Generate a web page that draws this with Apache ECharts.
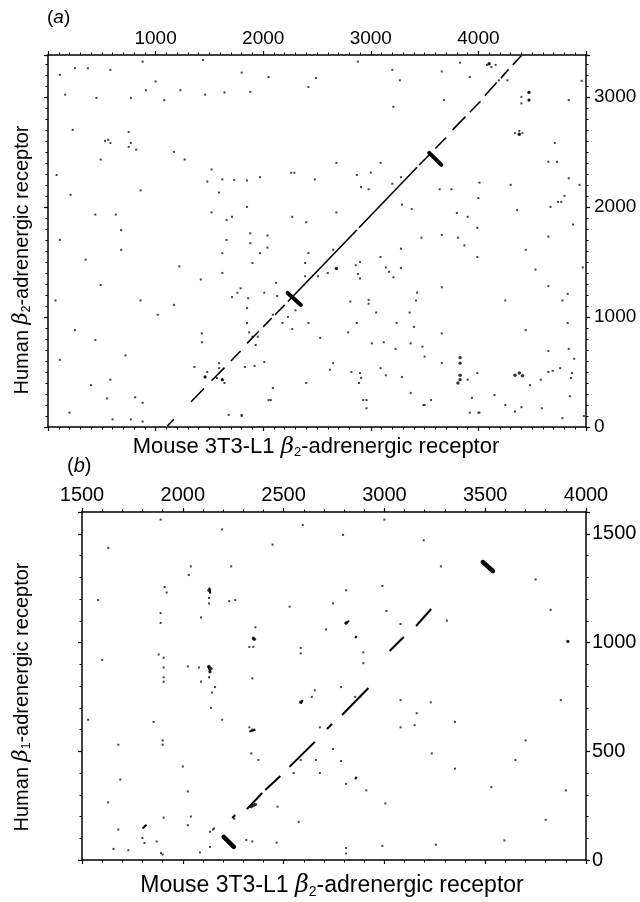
<!DOCTYPE html>
<html><head><meta charset="utf-8">
<script src="https://cdn.jsdelivr.net/npm/echarts@6/dist/echarts.min.js"></script>
<style>html,body{margin:0;padding:0;background:#fff}#c{width:640px;height:902px}</style>
</head><body><div id="c"></div>
<script>
// ---------- Panel (a): Mouse 3T3-L1 beta2 (x) vs Human beta2 (y) ----------
const rangeAx = [0, 5000], rangeAy = [0, 3380];
const ticksAx = [1000, 2000, 3000, 4000];
const ticksAy = [0, 1000, 2000, 3000];
// diagonal match segments [x1,y1,x2,y2]
const dashesA = [
  [1110,10,1170,70],[1330,230,1450,350],[1520,420,1640,540],[1700,600,1790,690],
  [1850,760,1960,870],[2000,910,2080,990],[2110,1020,2200,1110],
  [2230,1140,2870,1790],[2890,1810,3430,2360],[3450,2380,3560,2490],
  [3600,2530,3700,2630],[3760,2700,3880,2820],[3920,2860,4020,2960],
  [4060,3010,4170,3130],[4210,3170,4280,3250],[4320,3290,4400,3375]
];
const arrowsA = [[2227,1218,2350,1109],[3543,2491,3656,2382]];
const dotsA = [
  [250,3260],[370,3260],[580,3245],[880,3320],[1440,3335],[1800,3220],[2050,3180],[2420,3090],
  [2490,3170],[2880,3320],[3200,3245],[3270,3150],[3660,3230],[3830,3310],[3920,3180],
  [4080,3290],[4120,3270],[4160,3290],[4100,3300],[4190,3150],[4270,3150],[4400,3000],
  [4470,3040],[4470,2970],[4400,2940],[4840,2970],[450,2990],[770,2990],[1080,2970],
  [1460,3020],[1640,3040],[1880,3045],[1000,3140],[1230,3060],[3210,2910],[3680,2970],
  [110,3200],[160,3020],[230,2700],[80,2290],[210,2110],[440,1930],[110,1700],[350,1520],
  [490,1290],[680,1610],[70,1150],[250,880],[440,790],[110,610],[400,380],[580,430],
  [910,3060],[560,2610],[580,2580],[530,2600],[750,2680],[770,2580],[750,2545],[820,2520],
  [490,2430],[860,2150],[630,1930],[680,1790],[860,1150],[720,650],
  [200,130],[550,260],[810,270],[600,70],[880,220],[880,50],[770,70],[1640,400],[1800,110],
  [2050,245],[2930,245],[3490,200],[4000,130],[4340,140],[4400,180],
  [1170,2500],[1270,2430],[1520,2340],[1480,2230],[1620,2250],[1730,2245],[1850,2240],
  [1970,2270],[2260,2310],[2290,2310],[2480,2250],[2680,2400],[2870,2290],[3000,2310],
  [3090,2400],[2910,2180],[2980,2160],[3200,2210],[3280,2270],[3640,2160],[3750,2160],
  [4010,2220],[4000,2080],[1590,2130],[1520,1950],[1710,1910],[1660,1880],[1850,2000],
  [2270,1910],[2400,1860],[2680,1950],[3290,2020],[3380,1980],[3800,1945],[3900,1910],
  [1660,1700],[1880,1760],[2040,1740],[1880,1670],[2040,1630],[1970,1580],[1620,1580],
  [2420,1580],[2650,1610],[3090,1545],[3280,1620],[3470,1720],[3660,1745],[3810,1720],
  [3870,1650],[3990,1545],[3990,1810],[1220,1460],[1620,1400],[1900,1490],[2390,1490],
  [2510,1370],[2600,1400],[2680,1440],[2860,1470],[2900,1500],[2880,1390],[2900,1350],
  [3140,1450],[3170,1410],[3210,1360],[3280,1445],[1420,1340],[2120,1310],[2390,1370],
  [1710,1180],[1760,1220],[1790,1260],[1860,1170],[1850,1080],[2010,1220],[2130,1190],
  [2810,1140],[2980,1155],[2980,1120],[3430,1220],[3420,1150],[3660,1270],[1170,1110],
  [1020,1020],[1430,850],[1430,770],[1850,945],[1870,860],[1900,820],[1950,820],[1930,745],
  [2090,1020],[2180,945],[2230,1000],[2300,1060],[2270,890],[2420,945],[2530,810],
  [2790,860],[2870,945],[3050,1040],[3120,770],[3240,945],[3360,1040],[3400,910],
  [3370,760],[3230,710],[3660,850],[3480,730],[3010,760],[1360,545],[1590,580],[1590,535],
  [1620,430],[1570,445],[1480,500],[1460,455],[1830,545],[1920,555],[2010,590],[2650,580],
  [2620,520],[2900,490],[2910,445],[2890,400],[2820,500],[2400,400],[3090,535],[3140,470],
  [3290,455],[3500,640],[3660,580],[3900,430],[3990,490],
  [2090,355],[2070,245],[2960,245],[3370,310],[3500,200],[3560,245],[3940,265],[1680,110],
  [1800,100],[2960,170],[3920,130],[4010,130],
  [4300,2200],[4360,1970],[4440,1610],[4530,1430],[4250,1150],[4440,880],[4480,380],
  [4580,430],[4150,290],[4250,200],[4590,170],[4340,2670],[4380,2660],[4410,2670],[4380,2690],
  [4960,3145],[4710,2580],[4650,2410],[4730,2410],[4840,2260],[4940,2200],[4800,2100],
  [4740,2045],[4770,2045],[4670,2000],[4880,1840],[4650,1730],[4970,1450],[4650,1280],
  [4830,1210],[4780,1150],[4830,945],[4650,690],[4840,710],[4890,620],[4760,535],[4650,500],
  [4690,510],[4870,490],[4860,445],[4850,280],[4780,80],[4980,100]
];
const boldA = [
  [3810,400],[3830,630],[3830,580],[3830,470],[3830,430],[4340,470],[4380,490],[4410,465],
  [1460,455],[1620,430],[4380,2660],[4100,3300],[4470,3040],[4470,2970],[2680,1440]
];

// ---------- Panel (b): Mouse 3T3-L1 beta2 (x) vs Human beta1 (y) ----------
const rangeBx = [1500, 4000], rangeBy = [0, 1600];
const ticksBx = [1500, 2000, 2500, 3000, 3500, 4000];
const ticksBy = [0, 500, 1000, 1500];
const dashesB = [
  [2318,234,2394,308],[2409,322,2484,386],[2529,428,2655,543],[2715,602,2740,625],
  [2790,667,2921,791],[3026,961,3096,1025],[3157,1076,3232,1154],
  [1800,145,1820,162],[2245,193,2260,207],[2805,1085,2825,1100],[2855,1020,2862,1030],
  [2583,720,2595,735],[2855,372,2862,382],[2132,1252,2136,1225],[2125,892,2135,868],
  [2330,590,2360,600]
];
const arrowsB = [[3488,1370,3538,1329],[2203,106,2253,60]];
const dotsB = [
  [2040,1350],[2240,1350],[2030,1310],[3280,1350],[1910,1255],[1920,1230],[2130,1205],
  [2130,1180],[2230,1190],[2260,1195],[2810,1240],[2990,1260],[2745,1180],[2530,1165],
  [1890,1135],[2090,1115],[1890,1090],[2360,1070],[3010,1145],[2710,1060],[3080,1085],
  [3310,1100],[2330,980],[2350,980],[2585,975],[2585,950],[2895,955],[1880,945],[1905,930],
  [2895,905],[2025,890],[1905,885],[2080,885],[2130,840],[1905,840],[2090,820],[1905,820],
  [2345,835],[2160,795],[2145,770],[2785,795],[2655,780],[2640,750],[2855,750],[2880,750],
  [3080,735],[3230,725],[2140,700],[2195,645],[1855,635],[3160,675],[3350,635],[2330,610],
  [2345,600],[2680,610],[3080,610],[3150,620],[1900,550],[1900,530],[2745,510],[2340,490],
  [3235,490],[2000,430],[2375,460],[2585,460],[2660,460],[2785,455],[3350,420],[2550,400],
  [2680,400],[2810,350],[2910,320],[3530,335],[2025,315],[2470,245],[3005,260],[2255,190],
  [2040,200],[1905,195],[2025,160],[2575,175],[2155,145],[2135,130],[2085,35],[2135,60],
  [2345,85],[2465,80],[2810,55],[2810,30],[2990,65],[3255,70],[3595,90],[1900,25],[1870,85],
  [1630,1435],[1580,1195],[1600,920],[1530,645],[1680,530],[1690,370],[1630,265],[1680,140],
  [1730,45],[1800,101],[1810,78],[1892,32],[1656,51],[2150,140],[2315,92],
  [3910,1005],[3750,1290],[3825,1150],[3875,735],[3700,550],[3900,320],[3800,185],[3650,460],
  [1890,1565],[2195,1520],[2595,1540],[3000,1565],[3195,1470],[2445,1450],[2795,1495]
];
const boldB = [
  [2350,1020],[2355,1015],[2130,1240],[2135,865],[2140,880],[2130,890],[2340,245],[2350,250],
  [2360,255],[3910,1005],[2810,1090],[2585,725]
];

const FONT = 'Liberation Sans';
const chart = echarts.init(document.getElementById('c'), null, {renderer: 'canvas'});

function segData(arr) { return arr.map(s => ({coords: [[s[0], s[1]], [s[2], s[3]]]})); }
function labelFilter(list) { return v => list.indexOf(v) >= 0 ? String(v) : ''; }

function axis(base) {
  return Object.assign({
    type: 'value',
    axisLine: {show: true, onZero: false, lineStyle: {color: '#000', width: 1.5}},
    axisTick: {show: true, inside: false, length: 4, lineStyle: {color: '#000', width: 1.2}},
    splitLine: {show: false}, minorSplitLine: {show: false},
    axisLabel: {show: false}
  }, base);
}
function minor(n) { return {show: true, splitNumber: n, length: 2.5, lineStyle: {color: '#000', width: 1}}; }
function lab(size, margin, list) {
  return {show: true, fontSize: size, color: '#000', fontFamily: FONT, margin: margin, formatter: labelFilter(list)};
}
function titleText(txt, size) {
  return {
    text: txt, font: size + 'px ' + FONT, fill: '#000', align: 'center', verticalAlign: 'middle',
    rich: {
      r: {fontSize: size, fontFamily: FONT, fill: '#000'},
      b: {fontSize: size + 1, fontStyle: 'italic', fontFamily: 'DejaVu Serif', fill: '#000'},
      s: {fontSize: Math.round(size * 0.6), fontFamily: FONT, fill: '#000', verticalAlign: 'bottom', padding: [Math.round(size * 0.5), 0, 0, 0]}
    }
  };
}

chart.setOption({
  animation: false,
  backgroundColor: '#fff',
  graphic: [
    {type: 'text', left: 47, top: 8, style: {text: '({i|a})', font: '19px ' + FONT, fill: '#000',
      rich: {i: {fontStyle: 'italic', fontSize: 19, fontFamily: FONT}}}},
    {type: 'text', left: 67, top: 456, style: {text: '({i|b})', font: '20px ' + FONT, fill: '#000',
      rich: {i: {fontStyle: 'italic', fontSize: 20, fontFamily: FONT}}}},
    {type: 'text', x: 316, y: 447, style: titleText('{r|Mouse 3T3-L1 }{b|β}{s|2}{r|-adrenergic receptor}', 22)},
    {type: 'text', x: 332, y: 886, style: titleText('{r|Mouse 3T3-L1 }{b|β}{s|2}{r|-adrenergic receptor}', 23)},
    {type: 'text', x: 22, y: 260, rotation: Math.PI / 2, style: titleText('{r|Human }{b|β}{s|2}{r|-adrenergic receptor}', 20)},
    {type: 'text', x: 22, y: 697, rotation: Math.PI / 2, style: titleText('{r|Human }{b|β}{s|1}{r|-adrenergic receptor}', 20)}
  ],
  grid: [
    {left: 48, top: 55, width: 538, height: 372},
    {left: 82, top: 512, width: 504, height: 348}
  ],
  xAxis: [
    axis({gridIndex: 0, position: 'top', min: rangeAx[0], max: rangeAx[1], interval: 1000, minorTick: minor(10),
      axisLabel: lab(19, 7, ticksAx)}),
    axis({gridIndex: 0, position: 'bottom', min: rangeAx[0], max: rangeAx[1], interval: 1000, minorTick: minor(10)}),
    axis({gridIndex: 1, position: 'top', min: rangeBx[0], max: rangeBx[1], interval: 500, minorTick: minor(5),
      axisLabel: lab(20, 7, ticksBx)}),
    axis({gridIndex: 1, position: 'bottom', min: rangeBx[0], max: rangeBx[1], interval: 500, minorTick: minor(5)})
  ],
  yAxis: [
    axis({gridIndex: 0, position: 'right', min: rangeAy[0], max: rangeAy[1], interval: 1000, minorTick: minor(10),
      axisLabel: lab(19, 8, ticksAy)}),
    axis({gridIndex: 0, position: 'left', min: rangeAy[0], max: rangeAy[1], interval: 1000, minorTick: minor(10)}),
    axis({gridIndex: 1, position: 'right', min: rangeBy[0], max: rangeBy[1], interval: 500, minorTick: minor(5),
      axisLabel: lab(20, 6, ticksBy)}),
    axis({gridIndex: 1, position: 'left', min: rangeBy[0], max: rangeBy[1], interval: 500, minorTick: minor(5)})
  ],
  series: [
    {type: 'scatter', xAxisIndex: 0, yAxisIndex: 0, data: dotsA, symbol: 'rect', symbolSize: 2,
      itemStyle: {color: '#111'}, silent: true},
    {type: 'scatter', xAxisIndex: 0, yAxisIndex: 0, data: boldA, symbol: 'circle', symbolSize: 3.4,
      itemStyle: {color: '#000'}, silent: true},
    {type: 'lines', coordinateSystem: 'cartesian2d', xAxisIndex: 0, yAxisIndex: 0, data: segData(dashesA),
      lineStyle: {color: '#000', width: 1.6, opacity: 1}, silent: true},
    {type: 'lines', coordinateSystem: 'cartesian2d', xAxisIndex: 0, yAxisIndex: 0, data: segData(arrowsA),
      lineStyle: {color: '#000', width: 4, opacity: 1, cap: 'round'}, silent: true},
    {type: 'scatter', xAxisIndex: 2, yAxisIndex: 2, data: dotsB, symbol: 'rect', symbolSize: 2,
      itemStyle: {color: '#111'}, silent: true},
    {type: 'scatter', xAxisIndex: 2, yAxisIndex: 2, data: boldB, symbol: 'circle', symbolSize: 3.4,
      itemStyle: {color: '#000'}, silent: true},
    {type: 'lines', coordinateSystem: 'cartesian2d', xAxisIndex: 2, yAxisIndex: 2, data: segData(dashesB),
      lineStyle: {color: '#000', width: 2, opacity: 1}, silent: true},
    {type: 'lines', coordinateSystem: 'cartesian2d', xAxisIndex: 2, yAxisIndex: 2, data: segData(arrowsB),
      lineStyle: {color: '#000', width: 4.5, opacity: 1, cap: 'round'}, silent: true}
  ]
});
</script>
</body></html>
